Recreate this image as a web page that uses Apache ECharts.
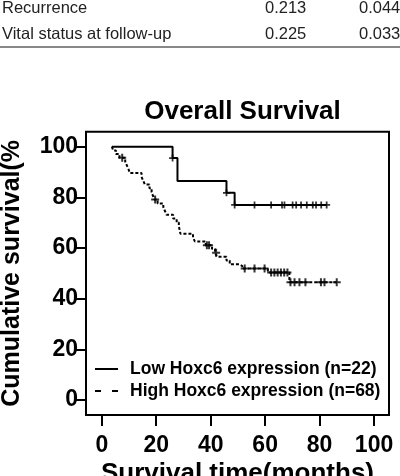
<!DOCTYPE html>
<html>
<head>
<meta charset="utf-8">
<script src="https://cdn.jsdelivr.net/npm/echarts@6.0.0/dist/echarts.min.js"></script>
<style>
  html, body { margin: 0; padding: 0; background: #fff; }
  #chart { width: 400px; height: 476px; }
</style>
</head>
<body>
<div id="chart"></div>
<script>
// ticks
var xTicks = [0, 20, 40, 60, 80, 100];
var yTicks = [0, 20, 40, 60, 80, 100];

// Low Hoxc6 group: event times (months) and survival (%) after each step
var lowTimes = [3.7, 26, 27.8, 45.8, 48.8];
var lowSurv = [100, 95.5, 86.4, 81.8, 77.0];
var lowCensor = [26, 45.8, 48.8, 56.1, 62.2, 66.2, 67.1, 70.1, 71.4, 73.2, 75.3, 77.5, 78.7, 80.6, 82.6];

// High Hoxc6 group
var highTimes = [3.7, 4.2, 5.2, 6.5, 8.6, 9.2, 9.8, 10.3, 14.6, 15.2, 15.8, 17.5, 18.3, 18.8, 19.3,
  20.5, 22.6, 23.2, 23.8, 26.2, 27.5, 28.3, 28.6, 28.9, 33.5, 34.2, 38.2, 40.5, 41.6, 42.3,
  45.8, 47, 50.5, 51.6, 61, 68.9];
var highSurv = [100, 98.5, 97.1, 95.6, 94.1, 92.6, 91.1, 89.6, 88.1, 86.6, 85.1, 83.6, 82.1, 80.6, 79.1,
  77.6, 76.1, 74.6, 73.1, 71.6, 70.1, 68.6, 67.1, 65.6, 64.1, 62.6, 61.1, 59.6, 58.1, 56.6,
  55.1, 53.6, 52.9, 51.9, 50.3, 46.5];
var highCensor = [7.5, 19.6, 38.6, 39.4, 42, 52.5, 56.1, 59.8, 62.2, 63.4, 64.6, 65.8, 67, 68.2,
  69.3, 70.8, 72.6, 74.8, 80.5, 81.8, 86.3];

var lowName = 'Low Hoxc6 expression (n=22)';
var highName = 'High Hoxc6 expression (n=68)';
var fontFam = '"Liberation Sans", Arial, sans-serif';

function levelAt(times, surv, t) {
  var v = surv[0];
  for (var i = 0; i < times.length; i++) {
    if (times[i] <= t) v = surv[i];
  }
  return v;
}
function stepData(times, surv, censor) {
  var d = times.map(function (t, i) { return [t, surv[i]]; });
  var last = censor[censor.length - 1];
  d.push([last, levelAt(times, surv, last)]);
  return d;
}
function censorData(times, surv, censor) {
  return censor.map(function (t) { return [t, levelAt(times, surv, t)]; });
}

var plus = 'path://M3,0 H5 V3 H8 V5 H5 V8 H3 V5 H0 V3 H3 Z';

var chart = echarts.init(document.getElementById('chart'));
var option = {
  animation: false,
  backgroundColor: '#fff',
  title: {
    text: 'Overall Survival',
    left: 237.5,
    textAlign: 'center',
    top: 94,
    textStyle: { fontFamily: fontFam, fontWeight: 'bold', fontSize: 26, color: '#000' }
  },
  graphic: [
    { type: 'text', left: 2, top: 0, style: { text: 'Recurrence', font: '16.5px "Liberation Sans", Arial', fill: '#222' } },
    { type: 'text', left: 265, top: 0, style: { text: '0.213', font: '16.5px "Liberation Sans", Arial', fill: '#222' } },
    { type: 'text', left: 359, top: 0, style: { text: '0.044', font: '16.5px "Liberation Sans", Arial', fill: '#222' } },
    { type: 'text', left: 2, top: 26, style: { text: 'Vital status at follow-up', font: '16.5px "Liberation Sans", Arial', fill: '#222' } },
    { type: 'text', left: 265, top: 26, style: { text: '0.225', font: '16.5px "Liberation Sans", Arial', fill: '#222' } },
    { type: 'text', left: 359, top: 26, style: { text: '0.033', font: '16.5px "Liberation Sans", Arial', fill: '#222' } },
    { type: 'rect', shape: { x: 0, y: 46, width: 400, height: 2 }, style: { fill: '#888' } }
  ],
  legend: {
    orient: 'vertical',
    left: 90,
    top: 355,
    itemWidth: 23,
    itemHeight: 2.5,
    itemGap: 4,
    textStyle: { fontFamily: fontFam, fontWeight: 'bold', fontSize: 17.5, color: '#000', padding: [0, 0, 0, 7] },
    data: [
      { name: lowName, icon: 'path://M0,0 H23 V2 H0 Z' },
      { name: highName, icon: 'path://M0,0 H6 V2 H0 Z M17,0 H23 V2 H17 Z' }
    ]
  },
  grid: {
    show: true,
    left: 86,
    top: 131.7,
    right: 11,
    bottom: 61,
    outerBoundsMode: 'none',
    containLabel: false,
    borderColor: '#000',
    borderWidth: 2
  },
  xAxis: {
    type: 'value',
    min: -5.8,
    max: 105.5,
    name: 'Survival time(months)',
    nameLocation: 'middle',
    nameGap: 46,
    nameMoveOverlap: false,
    nameTextStyle: { fontFamily: fontFam, fontWeight: 'bold', fontSize: 26, color: '#000' },
    axisLine: { show: false, onZero: false },
    splitLine: { show: false },
    axisTick: { show: true, inside: false, customValues: xTicks, length: 11, lineStyle: { color: '#000', width: 2 } },
    axisLabel: { customValues: xTicks, margin: 19, fontFamily: fontFam, fontWeight: 'bold', fontSize: 23, color: '#000' }
  },
  yAxis: {
    type: 'value',
    min: -5.9,
    max: 105.9,
    name: 'Cumulative survival(%',
    nameLocation: 'middle',
    nameGap: 61,
    nameMoveOverlap: false,
    nameTextStyle: { fontFamily: fontFam, fontWeight: 'bold', fontSize: 25, color: '#000' },
    axisLine: { show: false, onZero: false },
    splitLine: { show: false },
    axisTick: { show: true, inside: false, customValues: yTicks, length: 10, lineStyle: { color: '#000', width: 2 } },
    axisLabel: { customValues: yTicks, margin: 8, fontFamily: fontFam, fontWeight: 'bold', fontSize: 23, color: '#000' }
  },
  series: [
    {
      name: lowName,
      type: 'line',
      step: 'end',
      symbol: 'none',
      lineStyle: { color: '#000', width: 2 },
      itemStyle: { color: '#000' },
      data: stepData(lowTimes, lowSurv, lowCensor)
    },
    {
      name: highName,
      type: 'line',
      step: 'end',
      symbol: 'none',
      lineStyle: { color: '#000', width: 2, type: [3, 2] },
      itemStyle: { color: '#000' },
      data: stepData(highTimes, highSurv, highCensor)
    },
    {
      name: 'low censored',
      type: 'scatter',
      symbol: plus,
      symbolSize: 7,
      itemStyle: { color: '#000' },
      z: 3,
      data: censorData(lowTimes, lowSurv, lowCensor)
    },
    {
      name: 'high censored',
      type: 'scatter',
      symbol: plus,
      symbolSize: 8,
      itemStyle: { color: '#000' },
      z: 3,
      data: censorData(highTimes, highSurv, highCensor)
    }
  ]
};
chart.setOption(option);
</script>
</body>
</html>
